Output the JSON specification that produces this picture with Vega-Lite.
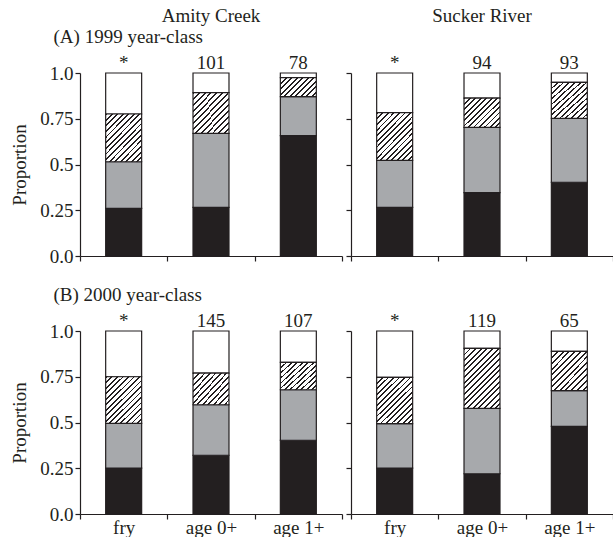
{
  "$schema": "https://vega.github.io/schema/vega-lite/v6.json",
  "padding": {"left": 10, "top": 7, "right": 0, "bottom": 0},
  "spacing": 19,
  "params": [
    {"name": "hA", "value": {"gradient": "linear", "x1": 0, "y1": 0, "x2": 1.195, "y2": 0.631, "stops": [
        {"offset": 0, "color": "#231f20"}, {"offset": 0.033, "color": "#231f20"}, {"offset": 0.033, "color": "#ffffff"}, {"offset": 0.1, "color": "#ffffff"},
        {"offset": 0.1, "color": "#231f20"}, {"offset": 0.133, "color": "#231f20"}, {"offset": 0.133, "color": "#ffffff"}, {"offset": 0.2, "color": "#ffffff"},
        {"offset": 0.2, "color": "#231f20"}, {"offset": 0.233, "color": "#231f20"}, {"offset": 0.233, "color": "#ffffff"}, {"offset": 0.3, "color": "#ffffff"},
        {"offset": 0.3, "color": "#231f20"}, {"offset": 0.333, "color": "#231f20"}, {"offset": 0.333, "color": "#ffffff"}, {"offset": 0.4, "color": "#ffffff"},
        {"offset": 0.4, "color": "#231f20"}, {"offset": 0.433, "color": "#231f20"}, {"offset": 0.433, "color": "#ffffff"}, {"offset": 0.5, "color": "#ffffff"},
        {"offset": 0.5, "color": "#231f20"}, {"offset": 0.533, "color": "#231f20"}, {"offset": 0.533, "color": "#ffffff"}, {"offset": 0.6, "color": "#ffffff"},
        {"offset": 0.6, "color": "#231f20"}, {"offset": 0.633, "color": "#231f20"}, {"offset": 0.633, "color": "#ffffff"}, {"offset": 0.7, "color": "#ffffff"},
        {"offset": 0.7, "color": "#231f20"}, {"offset": 0.733, "color": "#231f20"}, {"offset": 0.733, "color": "#ffffff"}, {"offset": 0.8, "color": "#ffffff"},
        {"offset": 0.8, "color": "#231f20"}, {"offset": 0.833, "color": "#231f20"}, {"offset": 0.833, "color": "#ffffff"}, {"offset": 0.9, "color": "#ffffff"},
        {"offset": 0.9, "color": "#231f20"}, {"offset": 0.933, "color": "#231f20"}, {"offset": 0.933, "color": "#ffffff"}, {"offset": 1, "color": "#ffffff"}
    ]}},
    {"name": "hB", "value": {"gradient": "linear", "x1": 0, "y1": 0, "x2": 1.089, "y2": 0.892, "stops": [
        {"offset": 0, "color": "#231f20"}, {"offset": 0.0275, "color": "#231f20"}, {"offset": 0.0275, "color": "#ffffff"}, {"offset": 0.0833, "color": "#ffffff"},
        {"offset": 0.0833, "color": "#231f20"}, {"offset": 0.1108, "color": "#231f20"}, {"offset": 0.1108, "color": "#ffffff"}, {"offset": 0.1667, "color": "#ffffff"},
        {"offset": 0.1667, "color": "#231f20"}, {"offset": 0.1942, "color": "#231f20"}, {"offset": 0.1942, "color": "#ffffff"}, {"offset": 0.25, "color": "#ffffff"},
        {"offset": 0.25, "color": "#231f20"}, {"offset": 0.2775, "color": "#231f20"}, {"offset": 0.2775, "color": "#ffffff"}, {"offset": 0.3333, "color": "#ffffff"},
        {"offset": 0.3333, "color": "#231f20"}, {"offset": 0.3608, "color": "#231f20"}, {"offset": 0.3608, "color": "#ffffff"}, {"offset": 0.4167, "color": "#ffffff"},
        {"offset": 0.4167, "color": "#231f20"}, {"offset": 0.4442, "color": "#231f20"}, {"offset": 0.4442, "color": "#ffffff"}, {"offset": 0.5, "color": "#ffffff"},
        {"offset": 0.5, "color": "#231f20"}, {"offset": 0.5275, "color": "#231f20"}, {"offset": 0.5275, "color": "#ffffff"}, {"offset": 0.5833, "color": "#ffffff"},
        {"offset": 0.5833, "color": "#231f20"}, {"offset": 0.6108, "color": "#231f20"}, {"offset": 0.6108, "color": "#ffffff"}, {"offset": 0.6667, "color": "#ffffff"},
        {"offset": 0.6667, "color": "#231f20"}, {"offset": 0.6942, "color": "#231f20"}, {"offset": 0.6942, "color": "#ffffff"}, {"offset": 0.75, "color": "#ffffff"},
        {"offset": 0.75, "color": "#231f20"}, {"offset": 0.7775, "color": "#231f20"}, {"offset": 0.7775, "color": "#ffffff"}, {"offset": 0.8333, "color": "#ffffff"},
        {"offset": 0.8333, "color": "#231f20"}, {"offset": 0.8608, "color": "#231f20"}, {"offset": 0.8608, "color": "#ffffff"}, {"offset": 0.9167, "color": "#ffffff"},
        {"offset": 0.9167, "color": "#231f20"}, {"offset": 0.9442, "color": "#231f20"}, {"offset": 0.9442, "color": "#ffffff"}, {"offset": 1, "color": "#ffffff"}
    ]}},
    {"name": "hC", "value": {"gradient": "linear", "x1": 0, "y1": 0, "x2": 0.962, "y2": 1.035, "stops": [
        {"offset": 0, "color": "#231f20"}, {"offset": 0.0254, "color": "#231f20"}, {"offset": 0.0254, "color": "#ffffff"}, {"offset": 0.0769, "color": "#ffffff"},
        {"offset": 0.0769, "color": "#231f20"}, {"offset": 0.1023, "color": "#231f20"}, {"offset": 0.1023, "color": "#ffffff"}, {"offset": 0.1538, "color": "#ffffff"},
        {"offset": 0.1538, "color": "#231f20"}, {"offset": 0.1792, "color": "#231f20"}, {"offset": 0.1792, "color": "#ffffff"}, {"offset": 0.2308, "color": "#ffffff"},
        {"offset": 0.2308, "color": "#231f20"}, {"offset": 0.2562, "color": "#231f20"}, {"offset": 0.2562, "color": "#ffffff"}, {"offset": 0.3077, "color": "#ffffff"},
        {"offset": 0.3077, "color": "#231f20"}, {"offset": 0.3331, "color": "#231f20"}, {"offset": 0.3331, "color": "#ffffff"}, {"offset": 0.3846, "color": "#ffffff"},
        {"offset": 0.3846, "color": "#231f20"}, {"offset": 0.41, "color": "#231f20"}, {"offset": 0.41, "color": "#ffffff"}, {"offset": 0.4615, "color": "#ffffff"},
        {"offset": 0.4615, "color": "#231f20"}, {"offset": 0.4869, "color": "#231f20"}, {"offset": 0.4869, "color": "#ffffff"}, {"offset": 0.5385, "color": "#ffffff"},
        {"offset": 0.5385, "color": "#231f20"}, {"offset": 0.5639, "color": "#231f20"}, {"offset": 0.5639, "color": "#ffffff"}, {"offset": 0.6154, "color": "#ffffff"},
        {"offset": 0.6154, "color": "#231f20"}, {"offset": 0.6408, "color": "#231f20"}, {"offset": 0.6408, "color": "#ffffff"}, {"offset": 0.6923, "color": "#ffffff"},
        {"offset": 0.6923, "color": "#231f20"}, {"offset": 0.7177, "color": "#231f20"}, {"offset": 0.7177, "color": "#ffffff"}, {"offset": 0.7692, "color": "#ffffff"},
        {"offset": 0.7692, "color": "#231f20"}, {"offset": 0.7946, "color": "#231f20"}, {"offset": 0.7946, "color": "#ffffff"}, {"offset": 0.8462, "color": "#ffffff"},
        {"offset": 0.8462, "color": "#231f20"}, {"offset": 0.8716, "color": "#231f20"}, {"offset": 0.8716, "color": "#ffffff"}, {"offset": 0.9231, "color": "#ffffff"},
        {"offset": 0.9231, "color": "#231f20"}, {"offset": 0.9485, "color": "#231f20"}, {"offset": 0.9485, "color": "#ffffff"}, {"offset": 1, "color": "#ffffff"}
    ]}},
    {"name": "hD", "value": {"gradient": "linear", "x1": 0, "y1": 0, "x2": 0.853, "y2": 1.113, "stops": [
        {"offset": 0, "color": "#231f20"}, {"offset": 0.022, "color": "#231f20"}, {"offset": 0.022, "color": "#ffffff"}, {"offset": 0.0667, "color": "#ffffff"},
        {"offset": 0.0667, "color": "#231f20"}, {"offset": 0.0887, "color": "#231f20"}, {"offset": 0.0887, "color": "#ffffff"}, {"offset": 0.1333, "color": "#ffffff"},
        {"offset": 0.1333, "color": "#231f20"}, {"offset": 0.1553, "color": "#231f20"}, {"offset": 0.1553, "color": "#ffffff"}, {"offset": 0.2, "color": "#ffffff"},
        {"offset": 0.2, "color": "#231f20"}, {"offset": 0.222, "color": "#231f20"}, {"offset": 0.222, "color": "#ffffff"}, {"offset": 0.2667, "color": "#ffffff"},
        {"offset": 0.2667, "color": "#231f20"}, {"offset": 0.2887, "color": "#231f20"}, {"offset": 0.2887, "color": "#ffffff"}, {"offset": 0.3333, "color": "#ffffff"},
        {"offset": 0.3333, "color": "#231f20"}, {"offset": 0.3553, "color": "#231f20"}, {"offset": 0.3553, "color": "#ffffff"}, {"offset": 0.4, "color": "#ffffff"},
        {"offset": 0.4, "color": "#231f20"}, {"offset": 0.422, "color": "#231f20"}, {"offset": 0.422, "color": "#ffffff"}, {"offset": 0.4667, "color": "#ffffff"},
        {"offset": 0.4667, "color": "#231f20"}, {"offset": 0.4887, "color": "#231f20"}, {"offset": 0.4887, "color": "#ffffff"}, {"offset": 0.5333, "color": "#ffffff"},
        {"offset": 0.5333, "color": "#231f20"}, {"offset": 0.5553, "color": "#231f20"}, {"offset": 0.5553, "color": "#ffffff"}, {"offset": 0.6, "color": "#ffffff"},
        {"offset": 0.6, "color": "#231f20"}, {"offset": 0.622, "color": "#231f20"}, {"offset": 0.622, "color": "#ffffff"}, {"offset": 0.6667, "color": "#ffffff"},
        {"offset": 0.6667, "color": "#231f20"}, {"offset": 0.6887, "color": "#231f20"}, {"offset": 0.6887, "color": "#ffffff"}, {"offset": 0.7333, "color": "#ffffff"},
        {"offset": 0.7333, "color": "#231f20"}, {"offset": 0.7553, "color": "#231f20"}, {"offset": 0.7553, "color": "#ffffff"}, {"offset": 0.8, "color": "#ffffff"},
        {"offset": 0.8, "color": "#231f20"}, {"offset": 0.822, "color": "#231f20"}, {"offset": 0.822, "color": "#ffffff"}, {"offset": 0.8667, "color": "#ffffff"},
        {"offset": 0.8667, "color": "#231f20"}, {"offset": 0.8887, "color": "#231f20"}, {"offset": 0.8887, "color": "#ffffff"}, {"offset": 0.9333, "color": "#ffffff"},
        {"offset": 0.9333, "color": "#231f20"}, {"offset": 0.9553, "color": "#231f20"}, {"offset": 0.9553, "color": "#ffffff"}, {"offset": 1, "color": "#ffffff"}
    ]}},
    {"name": "hE", "value": {"gradient": "linear", "x1": 0, "y1": 0, "x2": 0.706, "y2": 1.177, "stops": [
        {"offset": 0, "color": "#231f20"}, {"offset": 0.0194, "color": "#231f20"}, {"offset": 0.0194, "color": "#ffffff"}, {"offset": 0.0588, "color": "#ffffff"},
        {"offset": 0.0588, "color": "#231f20"}, {"offset": 0.0782, "color": "#231f20"}, {"offset": 0.0782, "color": "#ffffff"}, {"offset": 0.1176, "color": "#ffffff"},
        {"offset": 0.1176, "color": "#231f20"}, {"offset": 0.137, "color": "#231f20"}, {"offset": 0.137, "color": "#ffffff"}, {"offset": 0.1765, "color": "#ffffff"},
        {"offset": 0.1765, "color": "#231f20"}, {"offset": 0.1959, "color": "#231f20"}, {"offset": 0.1959, "color": "#ffffff"}, {"offset": 0.2353, "color": "#ffffff"},
        {"offset": 0.2353, "color": "#231f20"}, {"offset": 0.2547, "color": "#231f20"}, {"offset": 0.2547, "color": "#ffffff"}, {"offset": 0.2941, "color": "#ffffff"},
        {"offset": 0.2941, "color": "#231f20"}, {"offset": 0.3135, "color": "#231f20"}, {"offset": 0.3135, "color": "#ffffff"}, {"offset": 0.3529, "color": "#ffffff"},
        {"offset": 0.3529, "color": "#231f20"}, {"offset": 0.3723, "color": "#231f20"}, {"offset": 0.3723, "color": "#ffffff"}, {"offset": 0.4118, "color": "#ffffff"},
        {"offset": 0.4118, "color": "#231f20"}, {"offset": 0.4312, "color": "#231f20"}, {"offset": 0.4312, "color": "#ffffff"}, {"offset": 0.4706, "color": "#ffffff"},
        {"offset": 0.4706, "color": "#231f20"}, {"offset": 0.49, "color": "#231f20"}, {"offset": 0.49, "color": "#ffffff"}, {"offset": 0.5294, "color": "#ffffff"},
        {"offset": 0.5294, "color": "#231f20"}, {"offset": 0.5488, "color": "#231f20"}, {"offset": 0.5488, "color": "#ffffff"}, {"offset": 0.5882, "color": "#ffffff"},
        {"offset": 0.5882, "color": "#231f20"}, {"offset": 0.6076, "color": "#231f20"}, {"offset": 0.6076, "color": "#ffffff"}, {"offset": 0.6471, "color": "#ffffff"},
        {"offset": 0.6471, "color": "#231f20"}, {"offset": 0.6665, "color": "#231f20"}, {"offset": 0.6665, "color": "#ffffff"}, {"offset": 0.7059, "color": "#ffffff"},
        {"offset": 0.7059, "color": "#231f20"}, {"offset": 0.7253, "color": "#231f20"}, {"offset": 0.7253, "color": "#ffffff"}, {"offset": 0.7647, "color": "#ffffff"},
        {"offset": 0.7647, "color": "#231f20"}, {"offset": 0.7841, "color": "#231f20"}, {"offset": 0.7841, "color": "#ffffff"}, {"offset": 0.8235, "color": "#ffffff"},
        {"offset": 0.8235, "color": "#231f20"}, {"offset": 0.8429, "color": "#231f20"}, {"offset": 0.8429, "color": "#ffffff"}, {"offset": 0.8824, "color": "#ffffff"},
        {"offset": 0.8824, "color": "#231f20"}, {"offset": 0.9018, "color": "#231f20"}, {"offset": 0.9018, "color": "#ffffff"}, {"offset": 0.9412, "color": "#ffffff"},
        {"offset": 0.9412, "color": "#231f20"}, {"offset": 0.9606, "color": "#231f20"}, {"offset": 0.9606, "color": "#ffffff"}, {"offset": 1, "color": "#ffffff"}
    ]}}
  ],
  "datasets": {
    "seg": [
      {"river": "Amity Creek", "year": 1999, "stage": "fry", "seg": 1, "p": 0.26},
      {"river": "Amity Creek", "year": 1999, "stage": "fry", "seg": 2, "p": 0.255},
      {"river": "Amity Creek", "year": 1999, "stage": "fry", "seg": 3, "p": 0.261},
      {"river": "Amity Creek", "year": 1999, "stage": "fry", "seg": 4, "p": 0.224},
      {"river": "Amity Creek", "year": 1999, "stage": "age 0+", "seg": 1, "p": 0.266},
      {"river": "Amity Creek", "year": 1999, "stage": "age 0+", "seg": 2, "p": 0.404},
      {"river": "Amity Creek", "year": 1999, "stage": "age 0+", "seg": 3, "p": 0.223},
      {"river": "Amity Creek", "year": 1999, "stage": "age 0+", "seg": 4, "p": 0.107},
      {"river": "Amity Creek", "year": 1999, "stage": "age 1+", "seg": 1, "p": 0.658},
      {"river": "Amity Creek", "year": 1999, "stage": "age 1+", "seg": 2, "p": 0.213},
      {"river": "Amity Creek", "year": 1999, "stage": "age 1+", "seg": 3, "p": 0.104},
      {"river": "Amity Creek", "year": 1999, "stage": "age 1+", "seg": 4, "p": 0.025},
      {"river": "Sucker River", "year": 1999, "stage": "fry", "seg": 1, "p": 0.266},
      {"river": "Sucker River", "year": 1999, "stage": "fry", "seg": 2, "p": 0.257},
      {"river": "Sucker River", "year": 1999, "stage": "fry", "seg": 3, "p": 0.26},
      {"river": "Sucker River", "year": 1999, "stage": "fry", "seg": 4, "p": 0.217},
      {"river": "Sucker River", "year": 1999, "stage": "age 0+", "seg": 1, "p": 0.346},
      {"river": "Sucker River", "year": 1999, "stage": "age 0+", "seg": 2, "p": 0.357},
      {"river": "Sucker River", "year": 1999, "stage": "age 0+", "seg": 3, "p": 0.16},
      {"river": "Sucker River", "year": 1999, "stage": "age 0+", "seg": 4, "p": 0.137},
      {"river": "Sucker River", "year": 1999, "stage": "age 1+", "seg": 1, "p": 0.403},
      {"river": "Sucker River", "year": 1999, "stage": "age 1+", "seg": 2, "p": 0.349},
      {"river": "Sucker River", "year": 1999, "stage": "age 1+", "seg": 3, "p": 0.197},
      {"river": "Sucker River", "year": 1999, "stage": "age 1+", "seg": 4, "p": 0.051},
      {"river": "Amity Creek", "year": 2000, "stage": "fry", "seg": 1, "p": 0.251},
      {"river": "Amity Creek", "year": 2000, "stage": "fry", "seg": 2, "p": 0.244},
      {"river": "Amity Creek", "year": 2000, "stage": "fry", "seg": 3, "p": 0.255},
      {"river": "Amity Creek", "year": 2000, "stage": "fry", "seg": 4, "p": 0.25},
      {"river": "Amity Creek", "year": 2000, "stage": "age 0+", "seg": 1, "p": 0.321},
      {"river": "Amity Creek", "year": 2000, "stage": "age 0+", "seg": 2, "p": 0.276},
      {"river": "Amity Creek", "year": 2000, "stage": "age 0+", "seg": 3, "p": 0.173},
      {"river": "Amity Creek", "year": 2000, "stage": "age 0+", "seg": 4, "p": 0.23},
      {"river": "Amity Creek", "year": 2000, "stage": "age 1+", "seg": 1, "p": 0.403},
      {"river": "Amity Creek", "year": 2000, "stage": "age 1+", "seg": 2, "p": 0.276},
      {"river": "Amity Creek", "year": 2000, "stage": "age 1+", "seg": 3, "p": 0.15},
      {"river": "Amity Creek", "year": 2000, "stage": "age 1+", "seg": 4, "p": 0.171},
      {"river": "Sucker River", "year": 2000, "stage": "fry", "seg": 1, "p": 0.251},
      {"river": "Sucker River", "year": 2000, "stage": "fry", "seg": 2, "p": 0.243},
      {"river": "Sucker River", "year": 2000, "stage": "fry", "seg": 3, "p": 0.253},
      {"river": "Sucker River", "year": 2000, "stage": "fry", "seg": 4, "p": 0.253},
      {"river": "Sucker River", "year": 2000, "stage": "age 0+", "seg": 1, "p": 0.22},
      {"river": "Sucker River", "year": 2000, "stage": "age 0+", "seg": 2, "p": 0.357},
      {"river": "Sucker River", "year": 2000, "stage": "age 0+", "seg": 3, "p": 0.328},
      {"river": "Sucker River", "year": 2000, "stage": "age 0+", "seg": 4, "p": 0.095},
      {"river": "Sucker River", "year": 2000, "stage": "age 1+", "seg": 1, "p": 0.479},
      {"river": "Sucker River", "year": 2000, "stage": "age 1+", "seg": 2, "p": 0.195},
      {"river": "Sucker River", "year": 2000, "stage": "age 1+", "seg": 3, "p": 0.215},
      {"river": "Sucker River", "year": 2000, "stage": "age 1+", "seg": 4, "p": 0.111}
    ],
    "cnt": [
      {"river": "Amity Creek", "year": 1999, "stage": "fry", "n": "*"},
      {"river": "Amity Creek", "year": 1999, "stage": "age 0+", "n": "101"},
      {"river": "Amity Creek", "year": 1999, "stage": "age 1+", "n": "78"},
      {"river": "Sucker River", "year": 1999, "stage": "fry", "n": "*"},
      {"river": "Sucker River", "year": 1999, "stage": "age 0+", "n": "94"},
      {"river": "Sucker River", "year": 1999, "stage": "age 1+", "n": "93"},
      {"river": "Amity Creek", "year": 2000, "stage": "fry", "n": "*"},
      {"river": "Amity Creek", "year": 2000, "stage": "age 0+", "n": "145"},
      {"river": "Amity Creek", "year": 2000, "stage": "age 1+", "n": "107"},
      {"river": "Sucker River", "year": 2000, "stage": "fry", "n": "*"},
      {"river": "Sucker River", "year": 2000, "stage": "age 0+", "n": "119"},
      {"river": "Sucker River", "year": 2000, "stage": "age 1+", "n": "65"}
    ]
  },
  "config": {
    "font": "Liberation Serif",
    "view": {"stroke": null},
    "concat": {"spacing": 2},
    "axis": {"labelFont": "Liberation Serif", "titleFont": "Liberation Serif", "labelFontSize": 19, "titleFontSize": 19, "titleFontWeight": "normal", "labelColor": "#231f20", "titleColor": "#231f20", "domainColor": "#231f20", "tickColor": "#231f20", "grid": false, "domainWidth": 1.2, "tickWidth": 1.2},
    "title": {"font": "Liberation Serif", "fontSize": 19, "fontWeight": "normal", "color": "#231f20"},
    "text": {"font": "Liberation Serif", "fontSize": 19, "color": "#231f20"}
  },
  "vconcat": [
    {"hconcat": [
      {
        "width": 262, "height": 183,
        "title": {"text": "Amity Creek", "offset": 1},
        "data": {"name": "seg"},
        "transform": [{"filter": "datum.river === 'Amity Creek' && datum.year === 1999"}, {"stack": "p", "groupby": ["stage"], "sort": [{"field": "seg", "order": "ascending"}], "as": ["y0", "y1"]}],
        "layer": [
          {"transform": [{"filter": "datum.seg !== 3"}], "mark": {"type": "bar", "width": {"band": 0.412}, "stroke": "#231f20", "strokeWidth": 1.2},
           "encoding": {
             "x": {"field": "stage", "type": "nominal", "sort": ["fry", "age 0+", "age 1+"], "scale": {"paddingInner": 0, "paddingOuter": 0}, "axis": {"title": null, "labels": false, "tickBand": "extent", "tickSize": 5}},
             "y": {"field": "y0", "type": "quantitative", "scale": {"domain": [0, 1]}, "axis": {"values": [0, 0.25, 0.5, 0.75, 1], "labelExpr": "datum.value === 0 ? '0.0' : datum.value === 1 ? '1.0' : toString(datum.value)", "title": "Proportion", "tickSize": 5, "labelPadding": 2, "titlePadding": 10}},
             "y2": {"field": "y1"},
             "fill": {"field": "seg", "type": "nominal", "scale": {"domain": [1, 2, 4], "range": ["#231f20", "#a7a9ac", "#ffffff"]}, "legend": null}}},
          {"transform": [{"filter": "datum.seg === 3 && datum.p < 0.12"}], "mark": {"type": "bar", "fill": {"expr": "hA"}, "width": {"band": 0.412}, "stroke": "#231f20", "strokeWidth": 1.2}, "encoding": {"x": {"field": "stage", "type": "nominal", "sort": ["fry", "age 0+", "age 1+"], "axis": null}, "y": {"field": "y0", "type": "quantitative"}, "y2": {"field": "y1"}}},
          {"transform": [{"filter": "datum.seg === 3 && datum.p >= 0.12 && datum.p < 0.185"}], "mark": {"type": "bar", "fill": {"expr": "hB"}, "width": {"band": 0.412}, "stroke": "#231f20", "strokeWidth": 1.2}, "encoding": {"x": {"field": "stage", "type": "nominal", "sort": ["fry", "age 0+", "age 1+"], "axis": null}, "y": {"field": "y0", "type": "quantitative"}, "y2": {"field": "y1"}}},
          {"transform": [{"filter": "datum.seg === 3 && datum.p >= 0.185 && datum.p < 0.235"}], "mark": {"type": "bar", "fill": {"expr": "hC"}, "width": {"band": 0.412}, "stroke": "#231f20", "strokeWidth": 1.2}, "encoding": {"x": {"field": "stage", "type": "nominal", "sort": ["fry", "age 0+", "age 1+"], "axis": null}, "y": {"field": "y0", "type": "quantitative"}, "y2": {"field": "y1"}}},
          {"transform": [{"filter": "datum.seg === 3 && datum.p >= 0.235 && datum.p < 0.3"}], "mark": {"type": "bar", "fill": {"expr": "hD"}, "width": {"band": 0.412}, "stroke": "#231f20", "strokeWidth": 1.2}, "encoding": {"x": {"field": "stage", "type": "nominal", "sort": ["fry", "age 0+", "age 1+"], "axis": null}, "y": {"field": "y0", "type": "quantitative"}, "y2": {"field": "y1"}}},
          {"transform": [{"filter": "datum.seg === 3 && datum.p >= 0.3"}], "mark": {"type": "bar", "fill": {"expr": "hE"}, "width": {"band": 0.412}, "stroke": "#231f20", "strokeWidth": 1.2}, "encoding": {"x": {"field": "stage", "type": "nominal", "sort": ["fry", "age 0+", "age 1+"], "axis": null}, "y": {"field": "y0", "type": "quantitative"}, "y2": {"field": "y1"}}},
          {"data": {"name": "cnt"}, "transform": [{"filter": "datum.river === 'Amity Creek' && datum.year === 1999"}], "mark": {"type": "text", "baseline": "bottom", "dy": 0},
           "encoding": {"x": {"field": "stage", "type": "nominal", "sort": ["fry", "age 0+", "age 1+"], "axis": {"orient": "top", "title": "(A) 1999 year-class", "labels": false, "ticks": false, "domain": false, "titleAnchor": "start", "titleAlign": "left", "titleX": -27, "titlePadding": 27}},
             "y": {"datum": 1, "type": "quantitative"}, "text": {"field": "n"}}}
        ],
        "resolve": {"axis": {"x": "independent"}}
      },
      {
        "width": 262, "height": 183,
        "title": {"text": "Sucker River", "offset": 28},
        "data": {"name": "seg"},
        "transform": [{"filter": "datum.river === 'Sucker River' && datum.year === 1999"}, {"stack": "p", "groupby": ["stage"], "sort": [{"field": "seg", "order": "ascending"}], "as": ["y0", "y1"]}],
        "layer": [
          {"transform": [{"filter": "datum.seg !== 3"}], "mark": {"type": "bar", "width": {"band": 0.412}, "stroke": "#231f20", "strokeWidth": 1.2},
           "encoding": {
             "x": {"field": "stage", "type": "nominal", "sort": ["fry", "age 0+", "age 1+"], "scale": {"paddingInner": 0, "paddingOuter": 0}, "axis": {"title": null, "labels": false, "tickBand": "extent", "tickSize": 5}},
             "y": {"field": "y0", "type": "quantitative", "scale": {"domain": [0, 1]}, "axis": {"values": [0, 0.25, 0.5, 0.75, 1], "labels": false, "title": null, "tickSize": 5}},
             "y2": {"field": "y1"},
             "fill": {"field": "seg", "type": "nominal", "scale": {"domain": [1, 2, 4], "range": ["#231f20", "#a7a9ac", "#ffffff"]}, "legend": null}}},
          {"transform": [{"filter": "datum.seg === 3 && datum.p < 0.12"}], "mark": {"type": "bar", "fill": {"expr": "hA"}, "width": {"band": 0.412}, "stroke": "#231f20", "strokeWidth": 1.2}, "encoding": {"x": {"field": "stage", "type": "nominal", "sort": ["fry", "age 0+", "age 1+"], "axis": null}, "y": {"field": "y0", "type": "quantitative"}, "y2": {"field": "y1"}}},
          {"transform": [{"filter": "datum.seg === 3 && datum.p >= 0.12 && datum.p < 0.185"}], "mark": {"type": "bar", "fill": {"expr": "hB"}, "width": {"band": 0.412}, "stroke": "#231f20", "strokeWidth": 1.2}, "encoding": {"x": {"field": "stage", "type": "nominal", "sort": ["fry", "age 0+", "age 1+"], "axis": null}, "y": {"field": "y0", "type": "quantitative"}, "y2": {"field": "y1"}}},
          {"transform": [{"filter": "datum.seg === 3 && datum.p >= 0.185 && datum.p < 0.235"}], "mark": {"type": "bar", "fill": {"expr": "hC"}, "width": {"band": 0.412}, "stroke": "#231f20", "strokeWidth": 1.2}, "encoding": {"x": {"field": "stage", "type": "nominal", "sort": ["fry", "age 0+", "age 1+"], "axis": null}, "y": {"field": "y0", "type": "quantitative"}, "y2": {"field": "y1"}}},
          {"transform": [{"filter": "datum.seg === 3 && datum.p >= 0.235 && datum.p < 0.3"}], "mark": {"type": "bar", "fill": {"expr": "hD"}, "width": {"band": 0.412}, "stroke": "#231f20", "strokeWidth": 1.2}, "encoding": {"x": {"field": "stage", "type": "nominal", "sort": ["fry", "age 0+", "age 1+"], "axis": null}, "y": {"field": "y0", "type": "quantitative"}, "y2": {"field": "y1"}}},
          {"transform": [{"filter": "datum.seg === 3 && datum.p >= 0.3"}], "mark": {"type": "bar", "fill": {"expr": "hE"}, "width": {"band": 0.412}, "stroke": "#231f20", "strokeWidth": 1.2}, "encoding": {"x": {"field": "stage", "type": "nominal", "sort": ["fry", "age 0+", "age 1+"], "axis": null}, "y": {"field": "y0", "type": "quantitative"}, "y2": {"field": "y1"}}},
          {"data": {"name": "cnt"}, "transform": [{"filter": "datum.river === 'Sucker River' && datum.year === 1999"}], "mark": {"type": "text", "baseline": "bottom", "dy": 0},
           "encoding": {"x": {"field": "stage", "type": "nominal", "sort": ["fry", "age 0+", "age 1+"], "axis": null},
             "y": {"datum": 1, "type": "quantitative"}, "text": {"field": "n"}}}
        ],
        "resolve": {"axis": {"x": "independent"}}
      }
    ]},
    {"hconcat": [
      {
        "width": 262, "height": 183,
        "data": {"name": "seg"},
        "transform": [{"filter": "datum.river === 'Amity Creek' && datum.year === 2000"}, {"stack": "p", "groupby": ["stage"], "sort": [{"field": "seg", "order": "ascending"}], "as": ["y0", "y1"]}],
        "layer": [
          {"transform": [{"filter": "datum.seg !== 3"}], "mark": {"type": "bar", "width": {"band": 0.412}, "stroke": "#231f20", "strokeWidth": 1.2},
           "encoding": {
             "x": {"field": "stage", "type": "nominal", "sort": ["fry", "age 0+", "age 1+"], "scale": {"paddingInner": 0, "paddingOuter": 0}, "axis": {"title": null, "labelAngle": 0, "tickBand": "extent", "tickSize": 5, "labelPadding": -1}},
             "y": {"field": "y0", "type": "quantitative", "scale": {"domain": [0, 1]}, "axis": {"values": [0, 0.25, 0.5, 0.75, 1], "labelExpr": "datum.value === 0 ? '0.0' : datum.value === 1 ? '1.0' : toString(datum.value)", "title": "Proportion", "tickSize": 5, "labelPadding": 2, "titlePadding": 10}},
             "y2": {"field": "y1"},
             "fill": {"field": "seg", "type": "nominal", "scale": {"domain": [1, 2, 4], "range": ["#231f20", "#a7a9ac", "#ffffff"]}, "legend": null}}},
          {"transform": [{"filter": "datum.seg === 3 && datum.p < 0.12"}], "mark": {"type": "bar", "fill": {"expr": "hA"}, "width": {"band": 0.412}, "stroke": "#231f20", "strokeWidth": 1.2}, "encoding": {"x": {"field": "stage", "type": "nominal", "sort": ["fry", "age 0+", "age 1+"], "axis": null}, "y": {"field": "y0", "type": "quantitative"}, "y2": {"field": "y1"}}},
          {"transform": [{"filter": "datum.seg === 3 && datum.p >= 0.12 && datum.p < 0.185"}], "mark": {"type": "bar", "fill": {"expr": "hB"}, "width": {"band": 0.412}, "stroke": "#231f20", "strokeWidth": 1.2}, "encoding": {"x": {"field": "stage", "type": "nominal", "sort": ["fry", "age 0+", "age 1+"], "axis": null}, "y": {"field": "y0", "type": "quantitative"}, "y2": {"field": "y1"}}},
          {"transform": [{"filter": "datum.seg === 3 && datum.p >= 0.185 && datum.p < 0.235"}], "mark": {"type": "bar", "fill": {"expr": "hC"}, "width": {"band": 0.412}, "stroke": "#231f20", "strokeWidth": 1.2}, "encoding": {"x": {"field": "stage", "type": "nominal", "sort": ["fry", "age 0+", "age 1+"], "axis": null}, "y": {"field": "y0", "type": "quantitative"}, "y2": {"field": "y1"}}},
          {"transform": [{"filter": "datum.seg === 3 && datum.p >= 0.235 && datum.p < 0.3"}], "mark": {"type": "bar", "fill": {"expr": "hD"}, "width": {"band": 0.412}, "stroke": "#231f20", "strokeWidth": 1.2}, "encoding": {"x": {"field": "stage", "type": "nominal", "sort": ["fry", "age 0+", "age 1+"], "axis": null}, "y": {"field": "y0", "type": "quantitative"}, "y2": {"field": "y1"}}},
          {"transform": [{"filter": "datum.seg === 3 && datum.p >= 0.3"}], "mark": {"type": "bar", "fill": {"expr": "hE"}, "width": {"band": 0.412}, "stroke": "#231f20", "strokeWidth": 1.2}, "encoding": {"x": {"field": "stage", "type": "nominal", "sort": ["fry", "age 0+", "age 1+"], "axis": null}, "y": {"field": "y0", "type": "quantitative"}, "y2": {"field": "y1"}}},
          {"data": {"name": "cnt"}, "transform": [{"filter": "datum.river === 'Amity Creek' && datum.year === 2000"}], "mark": {"type": "text", "baseline": "bottom", "dy": 0},
           "encoding": {"x": {"field": "stage", "type": "nominal", "sort": ["fry", "age 0+", "age 1+"], "axis": {"orient": "top", "title": "(B) 2000 year-class", "labels": false, "ticks": false, "domain": false, "titleAnchor": "start", "titleAlign": "left", "titleX": -27, "titlePadding": 27}},
             "y": {"datum": 1, "type": "quantitative"}, "text": {"field": "n"}}}
        ],
        "resolve": {"axis": {"x": "independent"}}
      },
      {
        "width": 262, "height": 183,
        "data": {"name": "seg"},
        "transform": [{"filter": "datum.river === 'Sucker River' && datum.year === 2000"}, {"stack": "p", "groupby": ["stage"], "sort": [{"field": "seg", "order": "ascending"}], "as": ["y0", "y1"]}],
        "layer": [
          {"transform": [{"filter": "datum.seg !== 3"}], "mark": {"type": "bar", "width": {"band": 0.412}, "stroke": "#231f20", "strokeWidth": 1.2},
           "encoding": {
             "x": {"field": "stage", "type": "nominal", "sort": ["fry", "age 0+", "age 1+"], "scale": {"paddingInner": 0, "paddingOuter": 0}, "axis": {"title": null, "labelAngle": 0, "tickBand": "extent", "tickSize": 5, "labelPadding": -1}},
             "y": {"field": "y0", "type": "quantitative", "scale": {"domain": [0, 1]}, "axis": {"values": [0, 0.25, 0.5, 0.75, 1], "labels": false, "title": null, "tickSize": 5}},
             "y2": {"field": "y1"},
             "fill": {"field": "seg", "type": "nominal", "scale": {"domain": [1, 2, 4], "range": ["#231f20", "#a7a9ac", "#ffffff"]}, "legend": null}}},
          {"transform": [{"filter": "datum.seg === 3 && datum.p < 0.12"}], "mark": {"type": "bar", "fill": {"expr": "hA"}, "width": {"band": 0.412}, "stroke": "#231f20", "strokeWidth": 1.2}, "encoding": {"x": {"field": "stage", "type": "nominal", "sort": ["fry", "age 0+", "age 1+"], "axis": null}, "y": {"field": "y0", "type": "quantitative"}, "y2": {"field": "y1"}}},
          {"transform": [{"filter": "datum.seg === 3 && datum.p >= 0.12 && datum.p < 0.185"}], "mark": {"type": "bar", "fill": {"expr": "hB"}, "width": {"band": 0.412}, "stroke": "#231f20", "strokeWidth": 1.2}, "encoding": {"x": {"field": "stage", "type": "nominal", "sort": ["fry", "age 0+", "age 1+"], "axis": null}, "y": {"field": "y0", "type": "quantitative"}, "y2": {"field": "y1"}}},
          {"transform": [{"filter": "datum.seg === 3 && datum.p >= 0.185 && datum.p < 0.235"}], "mark": {"type": "bar", "fill": {"expr": "hC"}, "width": {"band": 0.412}, "stroke": "#231f20", "strokeWidth": 1.2}, "encoding": {"x": {"field": "stage", "type": "nominal", "sort": ["fry", "age 0+", "age 1+"], "axis": null}, "y": {"field": "y0", "type": "quantitative"}, "y2": {"field": "y1"}}},
          {"transform": [{"filter": "datum.seg === 3 && datum.p >= 0.235 && datum.p < 0.3"}], "mark": {"type": "bar", "fill": {"expr": "hD"}, "width": {"band": 0.412}, "stroke": "#231f20", "strokeWidth": 1.2}, "encoding": {"x": {"field": "stage", "type": "nominal", "sort": ["fry", "age 0+", "age 1+"], "axis": null}, "y": {"field": "y0", "type": "quantitative"}, "y2": {"field": "y1"}}},
          {"transform": [{"filter": "datum.seg === 3 && datum.p >= 0.3"}], "mark": {"type": "bar", "fill": {"expr": "hE"}, "width": {"band": 0.412}, "stroke": "#231f20", "strokeWidth": 1.2}, "encoding": {"x": {"field": "stage", "type": "nominal", "sort": ["fry", "age 0+", "age 1+"], "axis": null}, "y": {"field": "y0", "type": "quantitative"}, "y2": {"field": "y1"}}},
          {"data": {"name": "cnt"}, "transform": [{"filter": "datum.river === 'Sucker River' && datum.year === 2000"}], "mark": {"type": "text", "baseline": "bottom", "dy": 0},
           "encoding": {"x": {"field": "stage", "type": "nominal", "sort": ["fry", "age 0+", "age 1+"], "axis": null},
             "y": {"datum": 1, "type": "quantitative"}, "text": {"field": "n"}}}
        ],
        "resolve": {"axis": {"x": "independent"}}
      }
    ]}
  ]
}
